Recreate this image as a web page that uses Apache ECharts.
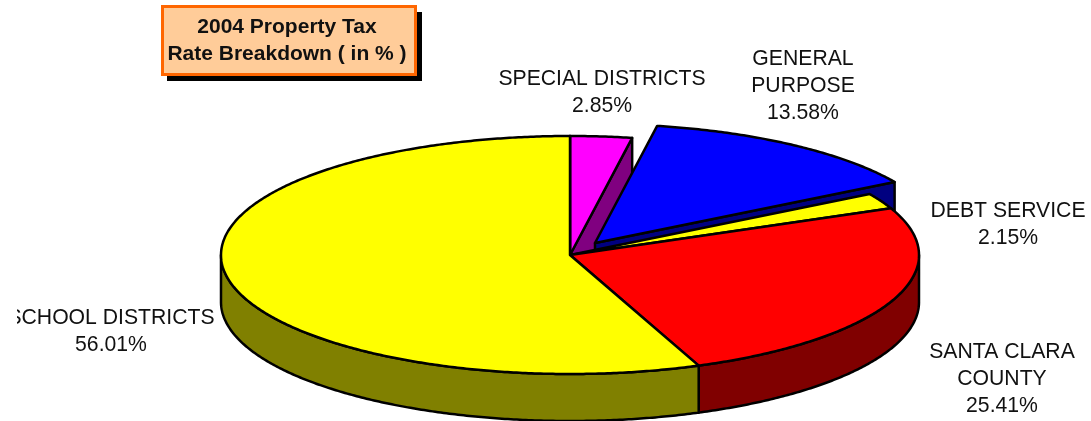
<!DOCTYPE html>
<html>
<head>
<meta charset="utf-8">
<style>
  html, body { margin: 0; padding: 0; background: #fff; }
  #chart { width: 1091px; height: 421px; }
</style>
<script src="https://cdn.jsdelivr.net/npm/echarts@6/dist/echarts.min.js"></script>
</head>
<body>
<div id="chart"></div>
<script>
// Slices, clockwise from twelve o'clock, in back-to-front drawing order
const categories = ['SPECIAL DISTRICTS', 'GENERAL\nPURPOSE', 'DEBT SERVICE', 'SANTA CLARA\nCOUNTY', 'SCHOOL DISTRICTS'];
const shares = [2.85, 13.58, 2.15, 25.41, 56.01];
const topColors = ['#FF00FF', '#0000FF', '#FFFF00', '#FF0000', '#FFFF00'];
const sideColors = ['#800080', '#000080', '#808000', '#800000', '#808000'];

// Disc geometry
const CX = 570, CY = 255, RX = 349, RY = 119, DEPTH = 47;
const explodeOffsets = [[0, 0], [25, -12], [0, 0], [0, 0], [0, 0]];

// Label anchors (centre of each text block)
const labelCentres = [[602, 93], [803, 86], [1008, 225], [1002, 379], [111, 332]];
const labelClips = [null, null, null, null, { x: 17, y: 295, width: 220, height: 70 }];

const OUTLINE = { stroke: '#000', lineWidth: 2.5, lineJoin: 'round' };

const rim = (cx, cy, a) => [cx + RX * Math.sin(a), cy - RY * Math.cos(a)];

function arcPoints(cx, cy, from, to) {
  const pts = [];
  const steps = Math.max(2, Math.ceil(Math.abs(to - from) / (Math.PI / 360)));
  for (let i = 0; i <= steps; i++) pts.push(rim(cx, cy, from + (to - from) * i / steps));
  return pts;
}

function renderSlice(params, api) {
  const i = params.dataIndex;
  const total = shares.reduce((s, v) => s + v, 0);
  const before = shares.slice(0, i).reduce((s, v) => s + v, 0);
  const start = before / total * 2 * Math.PI;
  const end = start + api.value(0) / total * 2 * Math.PI;
  const cx = CX + explodeOffsets[i][0];
  const cy = CY + explodeOffsets[i][1];
  const children = [];
  const poly = (points, fill) => children.push({
    type: 'polygon',
    shape: { points },
    style: Object.assign({ fill }, OUTLINE)
  });

  // Cut face at the clockwise end of the slice
  const e = rim(cx, cy, end);
  poly([[cx, cy], e, [e[0], e[1] + DEPTH], [cx, cy + DEPTH]], sideColors[i]);

  // Outer wall, only where the rim faces the viewer
  const wallFrom = Math.max(start, Math.PI / 2);
  const wallTo = Math.min(end, 3 * Math.PI / 2);
  if (wallTo > wallFrom) {
    const upper = arcPoints(cx, cy, wallFrom, wallTo);
    const lower = arcPoints(cx, cy + DEPTH, wallTo, wallFrom);
    poly(upper.concat(lower), sideColors[i]);
  }

  // Top face
  poly([[cx, cy]].concat(arcPoints(cx, cy, start, end)), topColors[i]);

  return { type: 'group', children };
}

function renderLabel(params, api) {
  const i = params.dataIndex;
  const el = {
    type: 'text',
    style: {
      x: labelCentres[i][0],
      y: labelCentres[i][1],
      text: categories[i] + '\n' + api.value(0).toFixed(2) + '%',
      align: 'center',
      verticalAlign: 'middle',
      fill: '#111',
      font: '21.2px "Liberation Sans", Arial, sans-serif',
      lineHeight: 27
    }
  };
  if (labelClips[i]) el.clipPath = { type: 'rect', shape: labelClips[i] };
  return el;
}

const chart = echarts.init(document.getElementById('chart'), null, { renderer: 'canvas' });
chart.setOption({
  backgroundColor: '#fff',
  animation: false,
  title: {
    text: '2004 Property Tax\nRate Breakdown ( in % )',
    left: 287,
    top: 14,
    textAlign: 'center',
    padding: 0,
    textStyle: {
      fontFamily: '"Liberation Sans", Arial, sans-serif',
      fontSize: 21,
      fontWeight: 'bold',
      color: '#111',
      lineHeight: 27,
      align: 'center'
    }
  },
  // Title plate with its hard drop shadow
  graphic: [
    { type: 'rect', z: 0, silent: true, shape: { x: 167, y: 12, width: 255, height: 69 }, style: { fill: '#000' } },
    { type: 'rect', z: 1, silent: true, shape: { x: 162.5, y: 6.5, width: 253, height: 68 },
      style: { fill: '#FFCC99', stroke: '#FF6600', lineWidth: 3 } }
  ],
  series: [
    {
      type: 'custom',
      coordinateSystem: 'none',
      silent: true,
      renderItem: renderSlice,
      data: shares.map(v => [v]),
      z: 2
    },
    {
      type: 'custom',
      coordinateSystem: 'none',
      silent: true,
      renderItem: renderLabel,
      data: shares.map(v => [v]),
      z: 3
    }
  ]
});
</script>
</body>
</html>
